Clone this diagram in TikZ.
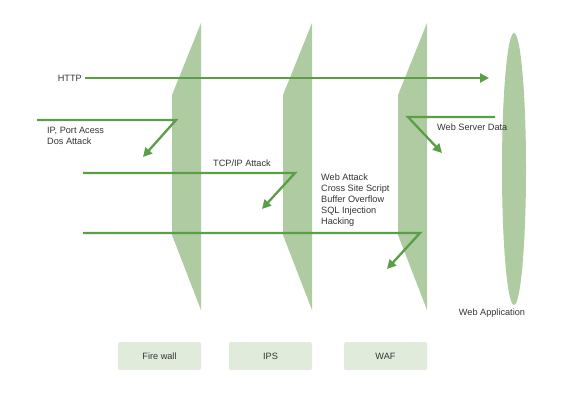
\documentclass[tikz,border=0pt]{standalone}
\usepackage{fontspec}
\setmainfont{Liberation Sans}
\usetikzlibrary{arrows.meta,positioning}
\definecolor{ink}{HTML}{333333}
\definecolor{wallgreen}{HTML}{AECBA1}
\definecolor{arrowgreen}{HTML}{5A9E45}
\definecolor{boxgreen}{HTML}{E1EBDC}
\tikzset{
  wall/.style={fill=wallgreen,draw=none},
  flow/.style={-{Triangle[length=9bp,width=9bp]},line width=2.3bp,draw=arrowgreen},
  tag/.style={font=\fontsize{9.2}{10.9}\selectfont,text=ink,inner sep=0pt},
  labelbox/.style={fill=boxgreen,rounded corners=1.5bp,minimum width=83bp,minimum height=28bp,
    font=\fontsize{9.2}{10.9}\selectfont,text=ink,inner sep=0pt}
}
\begin{document}
\begin{tikzpicture}[x=1bp,y=-1bp]
        \useasboundingbox (0,0) rectangle (574,405);

        % walls
        \foreach \xr/\nm in {201/fw,312/ips,427/waf} {
          \fill[wall] (\xr,23) -- (\xr,310) -- (\xr-29,235) -- (\xr-29,95) -- cycle;
        }
        \fill[wallgreen] (514,169) ellipse [x radius=12, y radius=136];

        % labels under the walls
        \node[labelbox] (fwbox)  at (159.5,356) {Fire wall};
        \node[labelbox] (ipsbox) at (270.5,356) {IPS};
        \node[labelbox] (wafbox) at (385.5,356) {WAF};
        \node[tag] (appname) at (492,313) {Web Application};

        % HTTP
        \node[tag,anchor=east] (http) at (82,78) {HTTP};
        \coordinate (httpend) at (489,78);
        \draw[flow] (http.east) ++(3,0) -- (httpend);

        % IP / port access
        \coordinate (ipstart) at (37,120);
        \coordinate (ipturn) at (176,120);
        \coordinate (ipend) at (143,157);
        \draw[flow] (ipstart) -- (ipturn) -- (ipend);
        \node[tag,anchor=north west,align=left] (iptext) at (47,127) {IP, Port Acess\\Dos Attack};

        % TCP/IP
        \coordinate (tcpstart) at (83,173);
        \coordinate (tcpturn) at (295,173);
        \coordinate (tcpend) at (262,209);
        \draw[flow] (tcpstart) -- (tcpturn) -- (tcpend);
        \node[tag,anchor=south west] (tcptext) at (213,167) {TCP/IP Attack};

        % web attacks
        \coordinate (webstart) at (83,233);
        \coordinate (webturn) at (420,233);
        \coordinate (webend) at (387,269);
        \draw[flow] (webstart) -- (webturn) -- (webend);
        \node[tag,anchor=north west,align=left] (webtext) at (321,174)
          {Web Attack\\Cross Site Script\\Buffer Overflow\\SQL Injection\\Hacking};

        % server data
        \coordinate (srvstart) at (495,117);
        \coordinate (srvturn) at (408,117);
        \coordinate (srvend) at (442,153);
        \draw[flow] (srvstart) -- (srvturn) -- (srvend);
        \node[tag,anchor=north west] (srvtext) at (437,124) {Web Server Data};
      \end{tikzpicture}
\end{document}
